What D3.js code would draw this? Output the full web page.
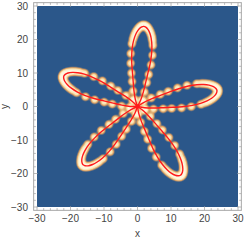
<!DOCTYPE html>
<html>
<head>
<meta charset="utf-8">
<script src="https://cdn.jsdelivr.net/npm/d3@7"></script>
<style>
  body { margin: 0; background: #fff; }
  svg { display: block; font-family: "Liberation Sans", Arial, sans-serif; }
</style>
</head>
<body>
<div id="chart"></div>
<script>
// petal tips: angle (deg) and length (data units)
const petalAngles = [85.5, 157.5, 227, 302, 11.5];
const petalLengths = [24, 23.8, 23.8, 24.2, 24.2];

// red loop of one petal, in the petal's own frame (u along the petal, v across)
const petalProfile = [
  [0, 0], [2, 0.8], [4.5, 1.4], [7.5, 1.9], [10, 2.3], [13, 2.75], [16, 2.95],
  [18.5, 2.85], [20.5, 2.5], [22, 2.0], [23.2, 1.3], [23.8, 0.6], [24, 0],
  [23.8, -0.6], [23.2, -1.3], [22, -2.0], [20.5, -2.5], [18.5, -2.85], [16, -2.95],
  [13, -2.75], [10, -2.3], [7.5, -1.9], [4.5, -1.4], [2, -0.8], [0, 0]
];

// glowing sample points of one petal, same frame
const dotProfile = [
  [2, 1.1], [4.5, 1.7], [7.3, 2.2], [9.8, 2.6], [12.7, 3.05], [15.6, 3.25], [18.5, 3.15],
  [20.0, 2.9], [21.2, 2.6], [22.3, 2.15], [23.2, 1.6], [23.9, 1.0], [24.3, 0.35],
  [24.3, -0.35], [23.9, -1.0], [23.2, -1.6], [22.3, -2.15], [21.2, -2.6], [20.0, -2.9],
  [18.5, -3.15], [15.6, -3.25], [12.7, -3.05], [9.8, -2.6], [7.3, -2.2], [4.5, -1.7], [2, -1.1]
];
const centerDots = [[0, 0]];

const majorTicks = [-30, -20, -10, 0, 10, 20, 30];
const minorTicks = d3.range(-30, 31, 2);

const width = 244, height = 240;
const x = d3.scaleLinear().domain([-30, 30]).range([37, 238]);
const y = d3.scaleLinear().domain([-30, 30]).range([207, 6]);

function place(p, i) {
  let a = petalAngles[i] * Math.PI / 180, k = petalLengths[i] / 24;
  let u = p[0] * k, v = p[1];
  return [u * Math.cos(a) - v * Math.sin(a), u * Math.sin(a) + v * Math.cos(a)];
}

let svg = d3.select('#chart').append('svg').attr('width', width).attr('height', height);

// density image
let dots = centerDots.slice();
petalAngles.forEach((a, i) => dotProfile.forEach(p => dots.push(place(p, i))));
let pts = dots.map(d => [x(d[0]), y(d[1])]);

let x0 = x(-30), y0 = y(30);
let W = Math.round(x(30) - x0), H = Math.round(y(-30) - y0);
let canvas = document.createElement('canvas');
canvas.width = W; canvas.height = H;
let ctx = canvas.getContext('2d');
let img = ctx.createImageData(W, H);
let sigma = 2.2;
let color = d3.scaleLinear()
  .domain([0, 0.07, 0.3, 0.65, 1.3])
  .range(['#2b578a', '#2b578a', '#dc9f62', '#f8e2ae', '#fff7e0'])
  .clamp(true);
for (let j = 0; j < H; j++) {
  for (let i = 0; i < W; i++) {
    let px = x0 + i + 0.5, py = y0 + j + 0.5, f = 0;
    for (let p of pts) {
      let dx = px - p[0], dy = py - p[1];
      let d2 = dx * dx + dy * dy;
      if (d2 < 144) f += Math.exp(-d2 / (2 * sigma * sigma));
    }
    let c = d3.rgb(color(f));
    let o = (j * W + i) * 4;
    img.data[o] = c.r; img.data[o + 1] = c.g; img.data[o + 2] = c.b; img.data[o + 3] = 255;
  }
}
ctx.putImageData(img, 0, 0);
svg.append('image')
  .attr('x', x0).attr('y', y0).attr('width', W).attr('height', H)
  .attr('href', canvas.toDataURL());

// frame
svg.append('rect')
  .attr('x', x(-31)).attr('y', y(31))
  .attr('width', x(31) - x(-31)).attr('height', y(-31) - y(31))
  .attr('fill', 'none').attr('stroke', '#a8a8a8').attr('stroke-width', 1);

let ticks = svg.append('g').attr('stroke', '#a8a8a8').attr('stroke-width', 0.8);
minorTicks.forEach(t => {
  let len = majorTicks.includes(t) ? 4 : 2.2;
  ticks.append('line').attr('x1', x(t)).attr('x2', x(t)).attr('y1', y(-31)).attr('y2', y(-31) - len);
  ticks.append('line').attr('x1', x(t)).attr('x2', x(t)).attr('y1', y(31)).attr('y2', y(31) + len);
  ticks.append('line').attr('y1', y(t)).attr('y2', y(t)).attr('x1', x(-31)).attr('x2', x(-31) + len);
  ticks.append('line').attr('y1', y(t)).attr('y2', y(t)).attr('x1', x(31)).attr('x2', x(31) - len);
});

let fmt = t => t < 0 ? '\u2212' + Math.abs(t) : String(t);
svg.append('g').selectAll('text').data(majorTicks).enter().append('text')
  .attr('x', d => x(d)).attr('y', 222)
  .attr('text-anchor', 'middle').attr('font-size', 10).attr('fill', '#444')
  .text(fmt);
svg.append('g').selectAll('text').data(majorTicks).enter().append('text')
  .attr('x', 28).attr('y', d => y(d) + 3.5)
  .attr('text-anchor', 'end').attr('font-size', 10).attr('fill', '#444')
  .text(fmt);

svg.append('text').attr('x', x(0)).attr('y', 237).attr('text-anchor', 'middle')
  .attr('font-size', 10).attr('fill', '#444').text('x');
svg.append('text').attr('transform', 'translate(8,' + y(0) + ') rotate(-90)')
  .attr('text-anchor', 'middle').attr('font-size', 10).attr('fill', '#444').text('y');

// red curve
let line = d3.line().x(d => x(d[0])).y(d => y(d[1])).curve(d3.curveCatmullRom.alpha(0.5));
svg.append('g').selectAll('path').data(petalAngles).enter().append('path')
  .attr('d', (a, i) => line(petalProfile.map(p => place(p, i))))
  .attr('fill', 'none').attr('stroke', '#ff1a1a').attr('stroke-width', 1.4);
svg.append('circle').attr('cx', x(0)).attr('cy', y(0)).attr('r', 2.3).attr('fill', '#ff1a1a');
</script>
</body>
</html>
